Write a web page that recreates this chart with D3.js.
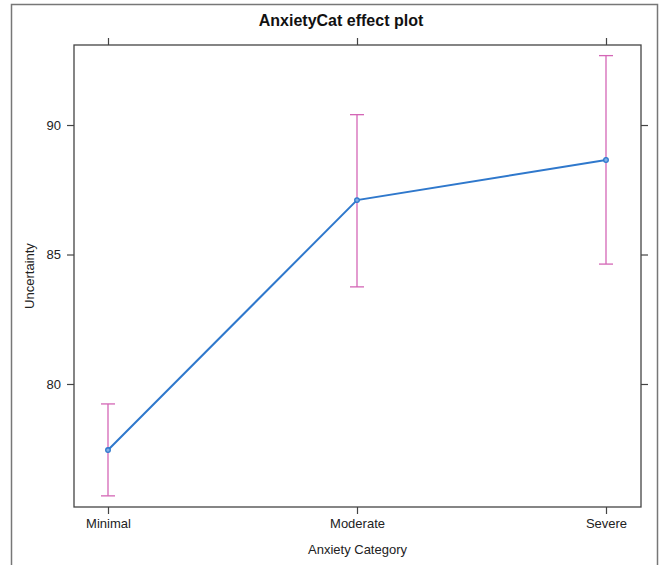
<!DOCTYPE html>
<html>
<head>
<meta charset="utf-8">
<script src="https://cdn.jsdelivr.net/npm/d3@7"></script>
<style>
  body { margin: 0; background: #fff; }
  svg { display: block; font-family: "Liberation Sans", Arial, sans-serif; }
</style>
</head>
<body>
<script>
var categories = ["Minimal", "Moderate", "Severe"];
var fitValues = [77.45, 87.1, 88.65];
var lowerValues = [75.68, 83.75, 84.63];
var upperValues = [79.23, 90.4, 92.68];
var yTicks = [80, 85, 90];

var width = 660, height = 565;
var panel = {left: 74, right: 641, top: 45, bottom: 507};

var svg = d3.select("body").append("svg")
    .attr("width", width)
    .attr("height", height);

// outer frame of the screenshot
svg.append("rect")
    .attr("x", 11.5).attr("y", 4.5)
    .attr("width", 646).attr("height", 600)
    .attr("fill", "none")
    .attr("stroke", "#777")
    .attr("stroke-width", 1.5);

var x = d3.scalePoint()
    .domain(categories)
    .range([108, 606]);

var y = d3.scaleLinear()
    .domain([75.25, 93.09])
    .range([panel.bottom, panel.top]);

var axisColor = "#444";

function styleAxis(g) {
  g.select(".domain").remove();
  g.selectAll(".tick line").attr("stroke", axisColor).attr("stroke-width", 1.2);
  g.selectAll(".tick text").attr("fill", "#222").style("font-size", "13px");
}

svg.append("g")
    .attr("transform", "translate(0," + panel.bottom + ")")
    .call(d3.axisBottom(x).tickSize(7).tickPadding(5))
    .call(styleAxis);

svg.append("g")
    .attr("transform", "translate(0," + panel.top + ")")
    .call(d3.axisTop(x).tickSize(7).tickFormat(""))
    .call(styleAxis);

svg.append("g")
    .attr("transform", "translate(" + panel.left + ",0)")
    .call(d3.axisLeft(y).tickValues(yTicks).tickSize(7).tickPadding(6))
    .call(styleAxis);

svg.append("g")
    .attr("transform", "translate(" + panel.right + ",0)")
    .call(d3.axisRight(y).tickValues(yTicks).tickSize(7).tickFormat(""))
    .call(styleAxis);

svg.append("rect")
    .attr("x", panel.left).attr("y", panel.top)
    .attr("width", panel.right - panel.left)
    .attr("height", panel.bottom - panel.top)
    .attr("fill", "none")
    .attr("stroke", axisColor)
    .attr("stroke-width", 1.3);

var rows = categories.map(function(c, i) {
  return {cat: c, fit: fitValues[i], lo: lowerValues[i], hi: upperValues[i]};
});

var pink = "#d466b6";
var capW = 7;

var bars = svg.append("g").selectAll("g")
    .data(rows)
  .enter().append("g")
    .attr("stroke", pink)
    .attr("stroke-width", 1.3);

bars.append("line")
    .attr("x1", function(d) { return x(d.cat); })
    .attr("x2", function(d) { return x(d.cat); })
    .attr("y1", function(d) { return y(d.lo); })
    .attr("y2", function(d) { return y(d.hi); });

bars.append("line")
    .attr("x1", function(d) { return x(d.cat) - capW; })
    .attr("x2", function(d) { return x(d.cat) + capW; })
    .attr("y1", function(d) { return y(d.lo); })
    .attr("y2", function(d) { return y(d.lo); });

bars.append("line")
    .attr("x1", function(d) { return x(d.cat) - capW; })
    .attr("x2", function(d) { return x(d.cat) + capW; })
    .attr("y1", function(d) { return y(d.hi); })
    .attr("y2", function(d) { return y(d.hi); });

var blue = "#2f78cc";

svg.append("path")
    .datum(rows)
    .attr("fill", "none")
    .attr("stroke", blue)
    .attr("stroke-width", 2)
    .attr("d", d3.line()
      .x(function(d) { return x(d.cat); })
      .y(function(d) { return y(d.fit); }));

svg.append("g").selectAll("circle")
    .data(rows)
  .enter().append("circle")
    .attr("cx", function(d) { return x(d.cat); })
    .attr("cy", function(d) { return y(d.fit); })
    .attr("r", 2.3)
    .attr("fill", "#7fb0e8")
    .attr("stroke", blue)
    .attr("stroke-width", 1.3);

svg.append("text")
    .attr("x", 341).attr("y", 26)
    .attr("text-anchor", "middle")
    .style("font-size", "16px")
    .style("font-weight", "bold")
    .attr("fill", "#111")
    .text("AnxietyCat effect plot");

svg.append("text")
    .attr("x", (panel.left + panel.right) / 2).attr("y", 554)
    .attr("text-anchor", "middle")
    .style("font-size", "13px")
    .attr("fill", "#222")
    .text("Anxiety Category");

svg.append("text")
    .attr("transform", "translate(34," + ((panel.top + panel.bottom) / 2) + ") rotate(-90)")
    .attr("text-anchor", "middle")
    .style("font-size", "13px")
    .attr("fill", "#222")
    .text("Uncertainty");
</script>
</body>
</html>
